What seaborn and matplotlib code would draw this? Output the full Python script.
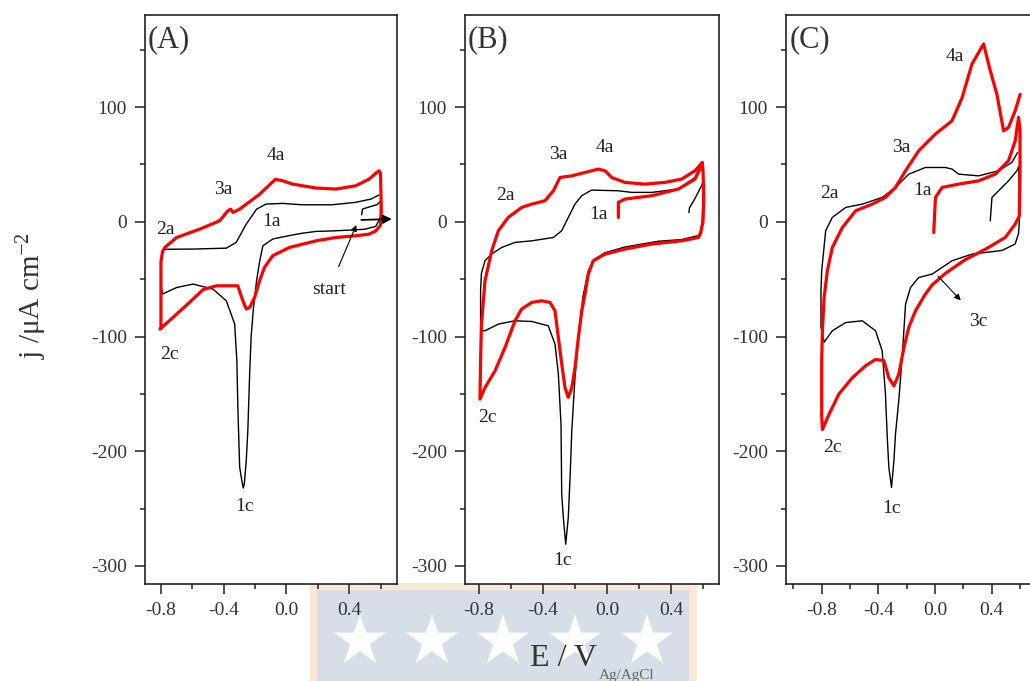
import numpy as np
import pandas as pd
import matplotlib
matplotlib.use("Agg")
import matplotlib.pyplot as plt
from matplotlib.ticker import MultipleLocator, FormatStrFormatter
from matplotlib.patches import Rectangle
import seaborn as sns

# ---------------- data (E in V, j in uA cm^-2) ----------------
A_black_E = [0.48, 0.485, 0.53, 0.58, 0.60, 0.60, 0.57, 0.50, 0.40, 0.29, 0.19, 0.10, 0.02, -0.087, -0.15, -0.17,
             -0.19, -0.21, -0.225, -0.235, -0.246, -0.256, -0.268, -0.275, -0.285, -0.298, -0.309, -0.316, -0.33,
             -0.383, -0.468, -0.595, -0.70, -0.79, -0.80, -0.80, -0.79, -0.785, -0.595, -0.383, -0.32, -0.256,
             -0.19, -0.13, -0.024, 0.10, 0.29, 0.44, 0.54, 0.59]
A_black_j = [6, 11, 13, 15, 18, 4, -4, -6.5, -7.3, -8, -8.4, -10, -12, -15, -21, -34,
             -51, -75, -100, -135, -182, -208, -228, -232, -225, -214, -165, -121, -89,
             -69, -58.7, -54.3, -57.3, -63, -55, -35, -26, -24, -23.8, -23, -18, -2,
             11, 15.4, 16, 14.8, 14.8, 16.9, 19.8, 23.3]

A_red_E = [-0.80, -0.80, -0.80, -0.79, -0.775, -0.70, -0.552, -0.425, -0.373, -0.355, -0.341, -0.298, -0.171,
           -0.07, -0.023, 0.04, 0.189, 0.316, 0.443, 0.527, 0.59, 0.60, 0.605, 0.60, 0.57, 0.527, 0.443, 0.316,
           0.189, 0.019, -0.087, -0.14, -0.171, -0.203, -0.235, -0.256, -0.28, -0.31, -0.446, -0.53, -0.616,
           -0.70, -0.806]
A_red_j = [-92, -60, -35, -26, -22.4, -13.7, -6.4, 0.9, 9.6, 11, 8.1, 11, 24,
           37, 35.7, 32.8, 29.4, 28.5, 31.4, 37.2, 44.5, 42, 10, -3, -8, -10.8, -12.2, -13.7,
           -16.6, -22.4, -29.6, -39.8, -51.4, -66, -74.7, -76, -68, -55.8, -55.8, -59, -70,
           -80.5, -93.6]

B_black_E = [0.5125, 0.515, 0.548, 0.596, 0.60, 0.60, 0.595, 0.585, 0.571, 0.467, 0.32, 0.1125, -0.0125, -0.075,
             -0.117, -0.15, -0.175, -0.2, -0.22, -0.23, -0.242, -0.258, -0.273, -0.283, -0.2875, -0.304, -0.325,
             -0.367, -0.47, -0.575, -0.679, -0.7625, -0.783, -0.79, -0.79, -0.785, -0.7625, -0.72, -0.658, -0.575,
             -0.47, -0.335, -0.283, -0.242, -0.2, -0.158, -0.096, 0.071, 0.154, 0.28, 0.446, 0.55, 0.596]
B_black_j = [8, 12, 19.8, 32.8, 38, 20, 0, -8, -12, -15.5, -17, -22, -27, -32.5,
             -42.7, -65, -95, -135.7, -182, -220, -257.8, -281, -257.8, -237.4, -176.4, -132.8, -106.6,
             -90.7, -86.9, -86.3, -89.2, -95, -95, -86, -60, -45, -34, -28, -22.4, -18,
             -16.6, -13.7, -7.8, 3.8, 15.4, 22.7, 27.6, 27, 25.6, 25.6, 28.5, 38.6, 51.7]

B_red_E = [0.071, 0.071, 0.1125, 0.28, 0.446, 0.55, 0.596, 0.60, 0.605, 0.60, 0.585, 0.571, 0.467, 0.28, 0.1125,
           -0.0125, -0.086, -0.117, -0.1375, -0.158, -0.179, -0.2, -0.22, -0.242, -0.2625, -0.283, -0.304,
           -0.325, -0.356, -0.408, -0.47, -0.533, -0.575, -0.6375, -0.7, -0.7625, -0.794, -0.79, -0.785,
           -0.7625, -0.72, -0.679, -0.617, -0.533, -0.47, -0.388, -0.335, -0.294, -0.22, -0.137, -0.054,
           -0.0125, 0.029, 0.1125, 0.2375, 0.3625, 0.467, 0.55, 0.596]
B_red_j = [3.8, 16.9, 19.8, 22.7, 28.5, 37.2, 50.3, 45, 20, 0, -10, -13.7, -16.6, -19.4, -23.8,
           -28.2, -34, -45.6, -63, -78, -100.9, -127, -144.5, -153, -144.5, -124, -101,
           -77.6, -70.3, -68.9, -70.3, -76, -86.3, -109.6, -130, -144.5, -154.6, -120, -90,
           -51.4, -25, -7.8, 3.8, 12.5, 15.4, 18.3, 27, 38.6, 40, 43, 45.9,
           44.5, 38.6, 34.3, 32.8, 34.3, 37.2, 44.5, 51.7]

C_black_E = [0.39, 0.402, 0.449, 0.519, 0.578, 0.59, 0.595, 0.595, 0.59, 0.566, 0.473, 0.261, 0.12, -0.02,
             -0.115, -0.173, -0.208, -0.22, -0.23, -0.256, -0.279, -0.29, -0.307, -0.326, -0.337, -0.35, -0.373,
             -0.42, -0.513, -0.63, -0.725, -0.783, -0.805, -0.805, -0.80, -0.772, -0.725, -0.63, -0.513, -0.373,
             -0.279, -0.185, -0.068, 0.073, 0.12, 0.167, 0.308, 0.449, 0.543, 0.583]
C_black_j = [0.9, 21.2, 27, 35.7, 44.5, 48, 30, 0, -10, -19.4, -25, -28.2, -34, -45.6,
             -48.6, -57.3, -71.8, -95, -115, -156, -185, -208, -231.6, -214, -188, -150, -112.5,
             -95, -86.3, -87.8, -95, -105, -92, -60, -42.7, -7.8, 3.8, 12.5, 15.4, 21.2,
             29.9, 41.5, 47.3, 47.3, 45.9, 41.5, 40, 44.5, 51.7, 60.4]

C_red_E = [-0.009, 0.003, 0.05, 0.167, 0.308, 0.425, 0.519, 0.566, 0.59, 0.60, 0.60, 0.595, 0.566, 0.496, 0.355,
           0.214, 0.073, -0.02, -0.068, -0.138, -0.185, -0.22, -0.256, -0.29, -0.326, -0.361, -0.42, -0.49,
           -0.584, -0.678, -0.749, -0.795, -0.80, -0.80, -0.795, -0.783, -0.76, -0.725, -0.654, -0.56, -0.443,
           -0.35, -0.279, -0.208, -0.115, 0.003, 0.12, 0.191, 0.261, 0.343, 0.39, 0.437, 0.484, 0.519, 0.566,
           0.601]
C_red_j = [-9.3, 21.2, 29.9, 32.8, 35.7, 41.5, 53.2, 70.6, 91, 80, 40, 5, -2, -13.7, -24,
           -33, -45, -55, -63, -77.6, -92, -110, -133, -143, -136, -121, -120, -125.5,
           -136, -150, -168, -181, -169, -120, -95, -66, -42.7, -22.4, -5, 9.6, 15.4,
           21.2, 29.9, 44.5, 61.9, 76.5, 88, 108, 137.5, 155, 131.7, 111, 79.3, 82.2, 96.8,
           111]

# peak labels: (text, E, j)
A_labels = [("4a", -0.065, 57.5), ("3a", -0.404, 28.5), ("2a", -0.77, -7), ("1a", -0.095, 0.0),
            ("2c", -0.743, -116), ("1c", -0.267, -248), ("start", 0.273, -58.7)]
B_labels = [("2a", -0.6375, 22.7), ("3a", -0.304, 59), ("4a", -0.0125, 64.8), ("1a", -0.054, 6.7),
            ("2c", -0.747, -171), ("1c", -0.278, -295.5)]
C_labels = [("4a", 0.142, 144), ("3a", -0.239, 64.8), ("2a", -0.744, 24.4), ("1a", -0.089, 27),
            ("2c", -0.722, -197), ("1c", -0.309, -250), ("3c", 0.306, -87)]
panel_letters = ["(A)", "(B)", "(C)"]

# ---------------- style ----------------
sns.set_theme(style="ticks")
plt.rcParams["font.family"] = ["Liberation Serif", "DejaVu Serif"]
plt.rcParams["mathtext.fontset"] = "custom"
plt.rcParams["mathtext.rm"] = "Liberation Serif"
plt.rcParams["mathtext.it"] = "Liberation Serif:italic"
plt.rcParams["axes.unicode_minus"] = False

W, H = 1030, 681
fig = plt.figure(figsize=(W / 100, H / 100), dpi=100)
fig.patch.set_facecolor("white")

# watermark behind everything
bg = fig.add_axes([0, 0, 1, 1], zorder=-1)
bg.set_xlim(0, W)
bg.set_ylim(H, 0)
bg.axis("off")
bg.add_patch(Rectangle((310, 583), 387, 110, facecolor="#fbe8d3", edgecolor="none"))
bg.add_patch(Rectangle((317, 590), 372, 100, facecolor="#d6dee8", edgecolor="none"))
star_x = [360, 432, 503, 575, 647]
bg.scatter(star_x, [641] * len(star_x), marker="*", s=1550, c="white", edgecolors="none", alpha=0.95)

def px_axes(left, right, top=15, bottom=584):
    return [left / W, (H - bottom) / H, (right - left) / W, (bottom - top) / H]

panels = [
    dict(pos=px_axes(145, 397), xlim=(-0.9016, 0.705), black=(A_black_E, A_black_j), red=(A_red_E, A_red_j),
         labels=A_labels, letter_x=0.010),
    dict(pos=px_axes(465, 719), xlim=(-0.8875, 0.70), black=(B_black_E, B_black_j), red=(B_red_E, B_red_j),
         labels=B_labels, letter_x=0.010),
    dict(pos=px_axes(786, 1037), xlim=(-1.052, 0.72), black=(C_black_E, C_black_j), red=(C_red_E, C_red_j),
         labels=C_labels, letter_x=0.016),
]

axes = []
for i, p in enumerate(panels):
    ax = fig.add_axes(p["pos"])
    axes.append(ax)
    dfb = pd.DataFrame({"E": p["black"][0], "j": p["black"][1]})
    dfr = pd.DataFrame({"E": p["red"][0], "j": p["red"][1]})
    sns.lineplot(data=dfb, x="E", y="j", sort=False, estimator=None, color="black", linewidth=1.0, ax=ax)
    sns.lineplot(data=dfr, x="E", y="j", sort=False, estimator=None, color="#ff0000", linewidth=2.3, ax=ax)
    ax.set_xlim(*p["xlim"])
    ax.set_ylim(-315.7, 180.2)
    ax.set_xlabel("")
    ax.set_ylabel("")
    ax.xaxis.set_major_locator(MultipleLocator(0.4))
    ax.xaxis.set_minor_locator(MultipleLocator(0.2))
    ax.xaxis.set_major_formatter(FormatStrFormatter("%.1f"))
    ax.yaxis.set_major_locator(MultipleLocator(100))
    ax.yaxis.set_minor_locator(MultipleLocator(50))
    ax.tick_params(which="both", direction="out", top=False, right=False, width=1.1, color="#222")
    ax.tick_params(which="major", length=7, labelsize=14, pad=6, labelcolor="#333")
    ax.tick_params(which="minor", length=3.5)
    for s in ax.spines.values():
        s.set_linewidth(1.2)
        s.set_color("#222")
    ax.set_facecolor("white")
    for txt, e, jv in p["labels"]:
        ax.text(e, jv, txt, fontsize=14, ha="center", va="center", color="#222")
    ax.text(p["letter_x"], 0.956, panel_letters[i], transform=ax.transAxes, fontsize=22,
            ha="left", va="center", color="#333")

# arrows
axes[0].annotate("", xy=(0.453, -0.6), xytext=(0.326, -41.2),
                 arrowprops=dict(arrowstyle="-|>", color="black", lw=0.8, mutation_scale=9))
axes[0].annotate("", xy=(0.69, 2.5), xytext=(0.46, 1.5),
                 arrowprops=dict(arrowstyle="-|>", color="black", lw=1.3, mutation_scale=13))
axes[2].annotate("", xy=(0.195, -70.3), xytext=(0.008, -45.6),
                 arrowprops=dict(arrowstyle="-|>", color="black", lw=0.8, mutation_scale=9))

# axis titles
fig.text(32 / W, 1 - 296 / H, r"j /μA cm$^{-2}$", rotation=90, fontsize=21, ha="center", va="center",
         color="#333")
fig.text(530 / W, 1 - 666 / H, "E / V", fontsize=23, ha="left", va="baseline", color="#333")
fig.text(599 / W, 1 - 679 / H, "Ag/AgCl", fontsize=11, ha="left", va="baseline", color="#666")

fig.savefig("out.png", dpi=100, facecolor="white")
